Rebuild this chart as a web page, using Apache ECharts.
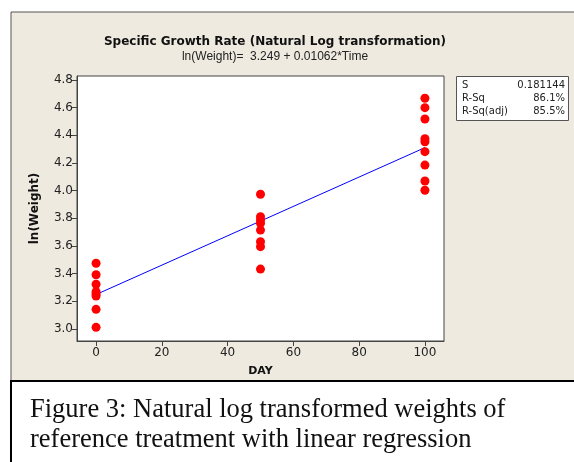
<!DOCTYPE html>
<html>
<head>
<meta charset="utf-8">
<script src="https://cdn.jsdelivr.net/npm/echarts@6/dist/echarts.min.js"></script>
<style>
  html, body { margin: 0; padding: 0; background: #fff; }
  #chart { width: 574px; height: 462px; }
</style>
</head>
<body>
<div id="chart"></div>
<script>
  var day0 = [3.475, 3.392, 3.323, 3.269, 3.253, 3.238, 3.142, 3.012]
  var day50 = [3.974, 3.812, 3.788, 3.764, 3.715, 3.631, 3.595, 3.433]
  var day100 = [4.668, 4.600, 4.518, 4.376, 4.354, 4.282, 4.185, 4.070, 4.003]
  var days = [0, 50, 100]
  // fitted line ln(Weight) = 3.249 + 0.01062*Time
  var fitDays = [0, 100]
  var fitValues = [3.249, 4.311]
  var xTicks = [0, 20, 40, 60, 80, 100]
  var yTicks = [3.0, 3.2, 3.4, 3.6, 3.8, 4.0, 4.2, 4.4, 4.6, 4.8]
  var stats = [['S', '0.181144'], ['R-Sq', '86.1%'], ['R-Sq(adj)', '85.5%']]

  var groups = [day0, day50, day100]
  var points = []
  groups.forEach(function (vals, i) {
    vals.forEach(function (v) { points.push([days[i], v]) })
  })
  var fit = fitDays.map(function (d, i) { return [d, fitValues[i]] })

  var statTexts = []
  stats.forEach(function (row, i) {
    statTexts.push({ type: 'text', x: 462, y: 85 + i * 13, style: { text: row[0], font: '10px "DejaVu Sans"', fill: '#222', textVerticalAlign: 'middle' } })
    statTexts.push({ type: 'text', x: 565, y: 85 + i * 13, style: { text: row[1], font: '10px "DejaVu Sans"', fill: '#222', textAlign: 'right', textVerticalAlign: 'middle' } })
  })

  var chart = echarts.init(document.getElementById('chart'))
  chart.setOption({
    animation: false,
    title: {
      text: 'Specific Growth Rate (Natural Log transformation)',
      subtext: 'ln(Weight)=  3.249 + 0.01062*Time',
      left: 270,
      top: 31,
      textAlign: 'center',
      itemGap: 3,
      textStyle: { fontFamily: 'DejaVu Sans', fontWeight: 'bold', fontSize: 12, color: '#111' },
      subtextStyle: { fontFamily: 'Liberation Sans', fontSize: 12, color: '#222' }
    },
    graphic: [
      { type: 'rect', z: -10, shape: { x: 11, y: 12, width: 570, height: 369 }, style: { fill: '#EEEAE0', stroke: '#555', lineWidth: 1 } },
      { type: 'rect', z: -10, shape: { x: 11, y: 381, width: 570, height: 90 }, style: { fill: '#fff', stroke: '#000', lineWidth: 2 } },
      { type: 'text', x: 30, y: 410, style: { text: 'Figure 3: Natural log transformed weights of', font: '26.5px "Liberation Serif"', fill: '#111', textVerticalAlign: 'middle' } },
      { type: 'text', x: 30, y: 440, style: { text: 'reference treatment with linear regression', font: '26.5px "Liberation Serif"', fill: '#111', textVerticalAlign: 'middle' } },
      { type: 'rect', shape: { x: 456.5, y: 76.5, width: 112, height: 44 }, style: { fill: '#fff', stroke: '#555', lineWidth: 1 } }
    ].concat(statTexts),
    grid: {
      left: 77, top: 76, width: 367, height: 265,
      show: true, backgroundColor: '#fff', borderColor: '#444', borderWidth: 1
    },
    xAxis: {
      type: 'value',
      min: -5.8,
      max: 105.8,
      name: 'DAY',
      nameLocation: 'middle',
      nameGap: 25,
      nameTextStyle: { fontFamily: 'DejaVu Sans', fontWeight: 'bold', fontSize: 11, color: '#111' },
      splitLine: { show: false },
      axisLine: { show: true, onZero: false, lineStyle: { color: '#444' } },
      axisTick: { show: true, length: 5, customValues: xTicks, lineStyle: { color: '#444' } },
      axisLabel: { customValues: xTicks, margin: 6, fontFamily: 'DejaVu Sans', fontSize: 12, color: '#222' }
    },
    yAxis: {
      type: 'value',
      min: 2.913,
      max: 4.829,
      name: 'ln(Weight)',
      nameLocation: 'middle',
      nameRotate: 90,
      nameGap: 36,
      nameTextStyle: { fontFamily: 'DejaVu Sans', fontWeight: 'bold', fontSize: 12, color: '#111' },
      splitLine: { show: false },
      axisLine: { show: true, onZero: false, lineStyle: { color: '#444' } },
      axisTick: { show: true, length: 5, customValues: yTicks, lineStyle: { color: '#444' } },
      axisLabel: {
        customValues: yTicks, margin: 4, fontFamily: 'DejaVu Sans', fontSize: 12, color: '#222',
        formatter: function (v) { return v.toFixed(1) }
      }
    },
    series: [
      {
        type: 'line',
        data: fit,
        showSymbol: false,
        lineStyle: { color: '#0000FF', width: 1 },
        z: 3
      },
      {
        type: 'scatter',
        data: points,
        symbolSize: 9,
        itemStyle: { color: '#FF0000', opacity: 1 },
        z: 4
      }
    ]
  })
</script>
</body>
</html>
